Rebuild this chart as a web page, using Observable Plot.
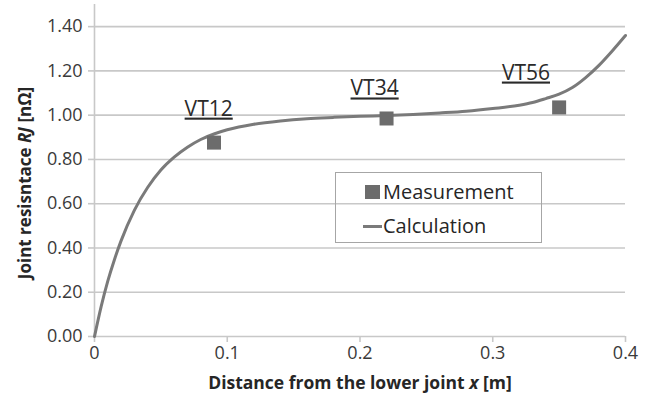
<!DOCTYPE html>
<html><head><meta charset="utf-8">
<script src="https://cdn.jsdelivr.net/npm/d3@7"></script>
<script src="https://cdn.jsdelivr.net/npm/@observablehq/plot@0.6"></script>
<style>
body{margin:0;background:#fff;}
#wrap{position:relative;width:654px;height:398px;font-family:"Open Sans",sans-serif;color:#262626;}
#wrap svg{display:block;}
.legend{position:absolute;left:335px;top:172px;width:207px;height:71px;border:1.5px solid #a6a6a6;box-sizing:border-box;font-size:20px;}
.legend .row{position:absolute;left:0;height:30px;line-height:30px;white-space:nowrap;}
.legend .sw{position:absolute;left:29px;}
.legend .txt{position:absolute;left:47px;top:0;}
</style></head>
<body><div id="wrap"></div>
<script>
// Calculation curve
const calcX = [0, 0.005, 0.01, 0.015, 0.02, 0.03, 0.04, 0.05, 0.06, 0.07, 0.08, 0.09, 0.10, 0.12, 0.14, 0.16, 0.18, 0.20, 0.22, 0.24, 0.26, 0.28, 0.30, 0.32, 0.33, 0.34, 0.35, 0.36, 0.37, 0.38, 0.39, 0.40];
const calcY = [0, 0.135, 0.25, 0.347, 0.432, 0.57, 0.673, 0.752, 0.81, 0.855, 0.89, 0.915, 0.934, 0.959, 0.974, 0.984, 0.99, 0.995, 0.998, 1.003, 1.01, 1.018, 1.03, 1.045, 1.057, 1.075, 1.095, 1.125, 1.17, 1.225, 1.29, 1.36];
// Measurements
const measX = [0.09, 0.22, 0.35];
const measY = [0.876, 0.985, 1.035];
// Annotations
const labelText = ["VT12", "VT34", "VT56"];
const labelX = [0.086, 0.211, 0.325];
const labelY = [0.998, 1.089, 1.161];
// Ticks
const xTicks = [0, 0.1, 0.2, 0.3, 0.4];
const xTickLabels = ["0", "0.1", "0.2", "0.3", "0.4"];
const yTicks = [0, 0.2, 0.4, 0.6, 0.8, 1.0, 1.2, 1.4];
const yTickLabels = ["0.00", "0.20", "0.40", "0.60", "0.80", "1.00", "1.20", "1.40"];
const seriesNames = ["Measurement", "Calculation"];

const calc = calcX.map((x, i) => ({x, y: calcY[i]}));
const meas = measX.map((x, i) => ({x, y: measY[i]}));
const labels = labelText.map((t, i) => ({t, x: labelX[i], y: labelY[i]}));

const grid = "#c8c8c8";
const chart = Plot.plot({
  width: 654, height: 398,
  marginLeft: 94, marginRight: 29, marginTop: 4, marginBottom: 62,
  style: {fontFamily: "'Open Sans', sans-serif", fontSize: "18px", background: "#fff", color: "#333"},
  x: {domain: [0, 0.4]},
  y: {domain: [0, 1.5]},
  marks: [
    Plot.ruleY(yTicks, {stroke: grid, strokeWidth: 1.6}),
    Plot.ruleX([0], {stroke: grid, strokeWidth: 1.6}),
    Plot.axisX(xTicks, {tickSize: 6, tickPadding: 4, stroke: grid, fill: "#3a3a3a", strokeWidth: 1.6, tickFormat: d => xTickLabels[xTicks.indexOf(d)], label: null, fontSize: 18}),
    Plot.axisY(yTicks, {tickSize: 6, tickPadding: 6, stroke: grid, fill: "#3a3a3a", strokeWidth: 1.6, tickFormat: d => yTickLabels[yTicks.indexOf(d)], label: null, fontSize: 18}),
    Plot.line(calc, {x: "x", y: "y", stroke: "#7a7a7a", strokeWidth: 3, curve: "monotone-x"}),
    Plot.dot(meas, {x: "x", y: "y", symbol: "square", r: 7.9, fill: "#6c6c6c", stroke: "none"}),
    Plot.text(labels, {x: "x", y: "y", text: "t", fontSize: 21, textAnchor: "middle", lineAnchor: "bottom", fill: "#2a2a2a"})
  ]
});
const wrap = document.getElementById("wrap");
wrap.appendChild(chart);
const svg = d3.select(chart);
svg.selectAll("g[aria-label=text] text").attr("text-decoration", "underline");

// Axis titles
const xt = svg.append("text").attr("x", 360).attr("y", 389).attr("text-anchor", "middle")
  .attr("font-size", 17.5).attr("font-weight", "bold").attr("fill", "#262626");
xt.append("tspan").text("Distance from the lower joint ");
xt.append("tspan").attr("font-style", "italic").text("x");
xt.append("tspan").text(" [m]");
const yt = svg.append("text").attr("transform", "translate(31,183) rotate(-90)").attr("text-anchor", "middle")
  .attr("font-size", 17).attr("font-weight", "bold").attr("fill", "#262626");
yt.append("tspan").text("Joint resisntace ");
yt.append("tspan").attr("font-style", "italic").text("RJ");
yt.append("tspan").text(" [n\u03a9]");

// Legend
const lg = document.createElement("div");
lg.className = "legend";
lg.innerHTML =
  `<div class="row" style="top:4px;width:100%"><div class="sw" style="top:8px;width:15px;height:14px;background:#6c6c6c"></div><span class="txt">${seriesNames[0]}</span></div>` +
  `<div class="row" style="top:38px;width:100%"><div class="sw" style="top:14px;width:19px;height:3px;background:#7a7a7a;left:27px"></div><span class="txt">${seriesNames[1]}</span></div>`;
wrap.appendChild(lg);
</script>
</body></html>
